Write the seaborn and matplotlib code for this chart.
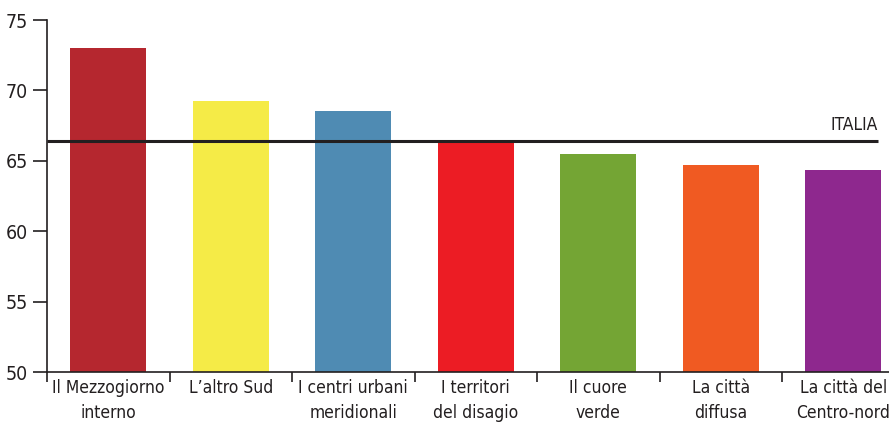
import matplotlib
matplotlib.use("Agg")
import matplotlib.pyplot as plt
import seaborn as sns
import pandas as pd
from matplotlib import font_manager as fm

categories = ["Il Mezzogiorno\ninterno", "L\u2019altro Sud", "I centri urbani\nmeridionali",
              "I territori\ndel disagio", "Il cuore\nverde", "La citt\u00e0\ndiffusa",
              "La citt\u00e0 del\nCentro-nord"]
values = [73.0, 69.25, 68.55, 66.35, 65.5, 64.7, 64.35]
colors = ["#B5272F", "#F5EB47", "#4F8BB3", "#EC1C24", "#74A534", "#F05A22", "#8E288E"]
italia_value = 66.4
italia_label = "ITALIA"
yticks = [50, 55, 60, 65, 70, 75]

names = {f.name for f in fm.fontManager.ttflist}
fam = "Liberation Sans Narrow" if "Liberation Sans Narrow" in names else "DejaVu Sans"

sns.set_style("white")
plt.rcParams["font.family"] = [fam, "DejaVu Sans"]

W, H = 889, 422
fig = plt.figure(figsize=(W / 100, H / 100), dpi=100)
ax = fig.add_axes([47 / W, (H - 372) / H, (W - 47) / W, (372 - 20) / H])

df = pd.DataFrame({"cat": categories, "val": values})
sns.barplot(data=df, x="cat", y="val", hue="cat", palette=colors, legend=False,
            width=0.62, saturation=1, linewidth=0, ax=ax)

ax.set_ylim(50, 75)
ax.set_xlim(-0.5, (W - 47) / 122.5 - 0.5)
ax.set_yticks(yticks)
ax.set_xlabel("")
ax.set_ylabel("")

for s in ["top", "right"]:
    ax.spines[s].set_visible(False)
for s in ["left", "bottom"]:
    ax.spines[s].set_color("#231F20")
    ax.spines[s].set_linewidth(1.2)

ax.tick_params(axis="y", direction="out", length=10, width=1.2, color="#231F20",
               labelsize=14, pad=4, left=True)
ax.tick_params(axis="x", which="major", length=0, labelsize=12.5, pad=5)
ax.set_xticks([i - 0.5 for i in range(len(categories))], minor=True)
ax.tick_params(axis="x", which="minor", direction="out", length=7, width=1.2,
               color="#231F20", bottom=True)
for lab in ax.get_xticklabels():
    lab.set_fontstretch("condensed")
    lab.set_fontweight("medium")
    lab.set_linespacing(1.5)
    lab.set_color("#231F20")
for lab in ax.get_yticklabels():
    lab.set_color("#231F20")
    lab.set_fontstretch("condensed")

x_end = (878 - 47) / 122.5 - 0.5
ax.plot([-0.5, x_end], [italia_value, italia_value], color="#231F20", lw=2.2, zorder=5,
        solid_capstyle="butt")
ax.text(x_end, italia_value + 0.5, italia_label, ha="right", va="bottom",
        fontsize=12.5, fontstretch="condensed", fontweight="medium", color="#231F20")

fig.savefig("out.png", dpi=100)
